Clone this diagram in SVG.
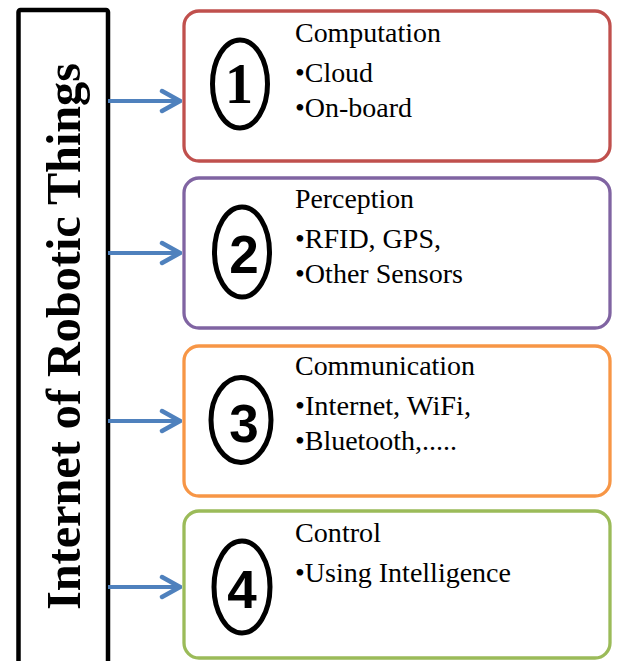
<svg xmlns="http://www.w3.org/2000/svg" width="618" height="661" viewBox="0 0 618 661">
<style>
.box{fill:#fff;stroke-width:3.3}
.ring{fill:none;stroke:#000;stroke-width:5}
.t{font-family:'Liberation Serif','Noto Serif','DejaVu Serif',FreeSerif,Tinos,Georgia,serif;font-size:28px;fill:#000}
.ns{font-family:'Liberation Sans',Arial,sans-serif;font-weight:bold;font-size:53px;fill:#000;text-anchor:middle}
.n1{font-family:'Liberation Serif','Noto Serif','DejaVu Serif',FreeSerif,Tinos,Georgia,serif;font-weight:bold;font-size:56px;fill:#000;text-anchor:middle}
.ttl{font-family:'Liberation Serif','Noto Serif','DejaVu Serif',FreeSerif,Tinos,Georgia,serif;font-weight:bold;font-size:49px;fill:#000}
.arr{stroke:#4F81BD;stroke-width:4;fill:none;marker-end:url(#ah)}
</style>
<defs>
<marker id="ah" markerUnits="userSpaceOnUse" viewBox="-22 -13 24 26" markerWidth="24" markerHeight="26" refX="0" refY="0" orient="auto">
<path d="M-18,-10 L0,0 L-18,10" fill="none" stroke="#4F81BD" stroke-width="4.5" stroke-linecap="round"/>
</marker>
</defs>
<rect width="618" height="661" fill="#fff"/>
<g id="title">
<rect x="18.5" y="10" width="89.5" height="700" rx="2" fill="#fff" stroke="#000" stroke-width="4.5"/>
<text class="ttl" transform="translate(80,610) rotate(-90)" x="0" y="0" textLength="547" lengthAdjust="spacingAndGlyphs">Internet of Robotic Things</text>
</g>
<g id="connectors">
<line class="arr" x1="108" y1="101" x2="180" y2="101"/>
<line class="arr" x1="108" y1="253" x2="180" y2="253"/>
<line class="arr" x1="108" y1="421" x2="180" y2="421"/>
<line class="arr" x1="108" y1="587" x2="180" y2="587"/>
</g>
<g id="node1">
<rect class="box" x="184" y="11" width="426" height="150" rx="15" stroke="#C0504D"/>
<ellipse class="ring" cx="240" cy="84" rx="27.5" ry="44"/>
<text class="n1" x="239" y="103">1</text>
<text class="t" x="295" y="42" textLength="146" lengthAdjust="spacingAndGlyphs">Computation</text>
<text class="t" x="295" y="82" textLength="78" lengthAdjust="spacingAndGlyphs">•Cloud</text>
<text class="t" x="295" y="117" textLength="117" lengthAdjust="spacingAndGlyphs">•On-board</text>
</g>
<g id="node2">
<rect class="box" x="184" y="178" width="426" height="150" rx="15" stroke="#8064A2"/>
<ellipse class="ring" cx="242" cy="252" rx="27.5" ry="45"/>
<text class="ns" x="244" y="273">2</text>
<text class="t" x="295" y="208" textLength="119" lengthAdjust="spacingAndGlyphs">Perception</text>
<text class="t" x="295" y="248" textLength="146" lengthAdjust="spacingAndGlyphs">•RFID, GPS,</text>
<text class="t" x="295" y="283" textLength="168" lengthAdjust="spacingAndGlyphs">•Other Sensors</text>
</g>
<g id="node3">
<rect class="box" x="184" y="346" width="426" height="150" rx="15" stroke="#F79646"/>
<ellipse class="ring" cx="241" cy="420" rx="30" ry="42.5"/>
<text class="ns" x="244" y="442">3</text>
<text class="t" x="295" y="375" textLength="180" lengthAdjust="spacingAndGlyphs">Communication</text>
<text class="t" x="295" y="415" textLength="176" lengthAdjust="spacingAndGlyphs">•Internet, WiFi,</text>
<text class="t" x="295" y="450" textLength="162" lengthAdjust="spacingAndGlyphs">•Bluetooth,.....</text>
</g>
<g id="node4">
<rect class="box" x="184" y="511" width="426" height="147" rx="15" stroke="#9BBB59"/>
<ellipse class="ring" cx="242" cy="587" rx="28" ry="46"/>
<text class="ns" x="242" y="608">4</text>
<text class="t" x="295" y="542" textLength="86" lengthAdjust="spacingAndGlyphs">Control</text>
<text class="t" x="295" y="582" textLength="216" lengthAdjust="spacingAndGlyphs">•Using Intelligence</text>
</g>
</svg>
